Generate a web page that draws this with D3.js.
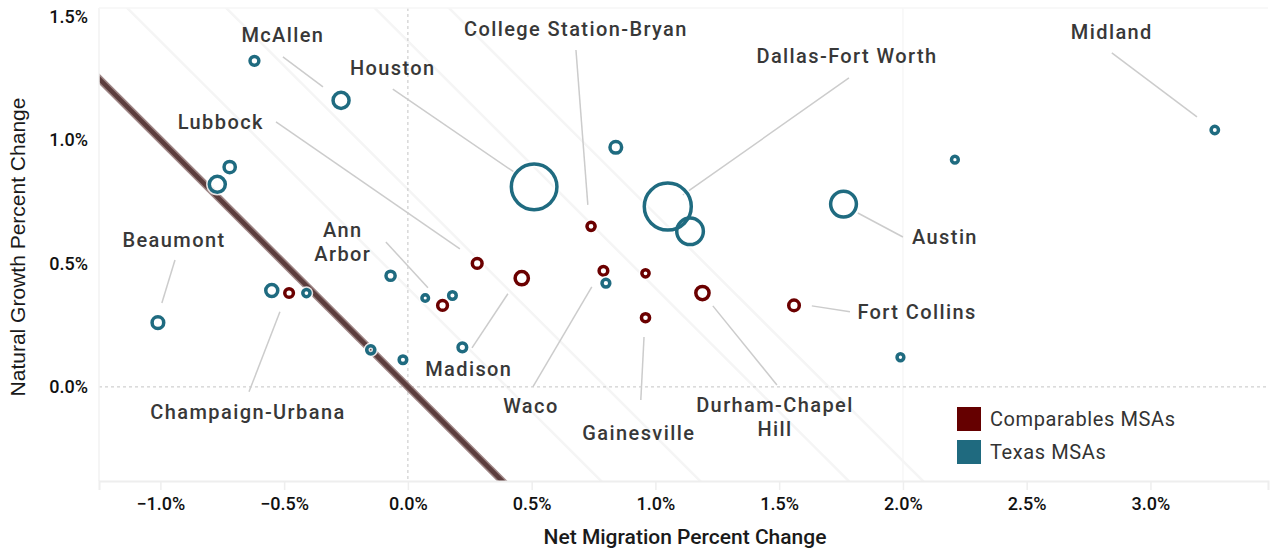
<!DOCTYPE html>
<html>
<head>
<meta charset="utf-8">
<script src="https://cdn.jsdelivr.net/npm/d3@7"></script>
<style>
  body { margin: 0; background: #fff; }
  svg { display: block; font-family: Roboto, "Noto Sans", sans-serif; }
</style>
</head>
<body>
<div id="chart"></div>
<script>
// Texas MSAs: net migration %, natural growth %, population (millions)
const texasMigration = [-0.62, -0.27, -0.72, -0.77, 0.51, 1.05, 1.14, 0.84, 1.76, 2.21, 3.26, 1.99, -1.01, -0.55, -0.41, -0.07, 0.07, 0.18, -0.15, -0.02, 0.22, 0.80];
const texasNatural   = [1.32, 1.16, 0.89, 0.82, 0.81, 0.73, 0.63, 0.97, 0.74, 0.92, 1.04, 0.12, 0.26, 0.39, 0.38, 0.45, 0.36, 0.37, 0.15, 0.11, 0.16, 0.42];
const texasPop       = [0.27, 0.89, 0.44, 0.89, 7.22, 7.67, 2.46, 0.47, 2.31, 0.16, 0.19, 0.16, 0.47, 0.50, 0.18, 0.29, 0.15, 0.20, 0.23, 0.20, 0.26, 0.21];

// Comparable MSAs
const compMigration = [-0.48, 0.14, 0.28, 0.46, 0.74, 0.79, 0.96, 0.96, 1.19, 1.56];
const compNatural   = [0.38, 0.33, 0.50, 0.44, 0.65, 0.47, 0.46, 0.28, 0.38, 0.33];
const compPop       = [0.26, 0.33, 0.33, 0.61, 0.23, 0.26, 0.18, 0.23, 0.61, 0.39];

// annotation labels (data units) and their leader lines
const labelNames = ["McAllen", "Houston", "College Station-Bryan", "Dallas-Fort Worth", "Midland", "Lubbock",
  "Ann\nArbor", "Beaumont", "Austin", "Fort Collins", "Madison", "Champaign-Urbana", "Waco", "Gainesville", "Durham-Chapel\nHill"];
const labelX = [-0.505, -0.061, 0.679, 1.774, 2.844, -0.756, -0.263, -0.945, 2.170, 2.057, 0.246, -0.646, 0.497, 0.933, 1.483];
const labelY = [1.425, 1.291, 1.449, 1.340, 1.437, 1.073, 0.587, 0.595, 0.607, 0.304, 0.073, -0.101, -0.077, -0.186, -0.123];
const leaderFrom = [[-0.505, 1.336], [-0.061, 1.206], [0.679, 1.364], [1.782, 1.251], [2.844, 1.352], [-0.533, 1.073],
  [-0.089, 0.587], [-0.941, 0.514], [1.818, 0.704], [1.632, 0.328], [0.259, 0.158], [-0.642, -0.020], [0.505, 0.000], [0.941, -0.053], [1.491, 0.008]];
const leaderTo = [[-0.343, 1.215], [0.440, 0.862], [0.727, 0.737], [1.111, 0.777], [3.188, 1.093], [0.210, 0.559],
  [0.081, 0.401], [-0.994, 0.340], [2.000, 0.607], [1.786, 0.304], [0.404, 0.377], [-0.517, 0.304], [0.743, 0.405], [0.954, 0.202], [1.232, 0.328]];

const xTicks = [-1.0, -0.5, 0.0, 0.5, 1.0, 1.5, 2.0, 2.5, 3.0];
const yTicks = [0.0, 0.5, 1.0, 1.5];
const isoSums = [0.4, 0.8, 1.4, 1.7];   // faint total-growth guide lines
const legendNames = ["Comparables MSAs", "Texas MSAs"];

const width = 1271, height = 552;
const margin = { top: 8, right: 3, bottom: 71, left: 99 };
const teal = "#1f6b80", maroon = "#6b0000";

const svg = d3.select("#chart").append("svg")
  .attr("width", width).attr("height", height);

const x = d3.scaleLinear().domain([-1.248, 3.475]).range([margin.left, width - margin.right]);
const y = d3.scaleLinear().domain([-0.381, 1.534]).range([height - margin.bottom, margin.top]);
const r = d3.scaleSqrt().domain([0, 8]).range([0, 24]);

svg.append("clipPath").attr("id", "plot-clip")
  .append("rect")
  .attr("x", x.range()[0]).attr("y", y.range()[1])
  .attr("width", x.range()[1] - x.range()[0])
  .attr("height", y.range()[0] - y.range()[1]);

const plot = svg.append("g").attr("clip-path", "url(#plot-clip)");

// plot frame (very light)
svg.append("line")
  .attr("x1", x.range()[0]).attr("x2", x.range()[0])
  .attr("y1", y.range()[1]).attr("y2", y.range()[0])
  .attr("stroke", "#f2f2f2").attr("stroke-width", 1.5);
svg.append("line")
  .attr("x1", x.range()[0]).attr("x2", x.range()[1])
  .attr("y1", y.range()[1]).attr("y2", y.range()[1])
  .attr("stroke", "#f6f6f6").attr("stroke-width", 1.5);
plot.append("line")
  .attr("x1", x(2.0)).attr("x2", x(2.0))
  .attr("y1", y.range()[1]).attr("y2", y.range()[0])
  .attr("stroke", "#f7f7f7").attr("stroke-width", 1.5);

// faint diagonal guides: migration + natural = constant
plot.selectAll(".iso")
  .data(isoSums)
  .enter().append("line")
  .attr("class", "iso")
  .attr("x1", d => x(d - 2)).attr("y1", d => y(2))
  .attr("x2", d => x(d + 2)).attr("y2", d => y(-2))
  .attr("stroke", "#f5f5f5").attr("stroke-width", 2.5);

// zero reference lines
plot.append("line")
  .attr("x1", x(0)).attr("x2", x(0))
  .attr("y1", y.range()[1]).attr("y2", y.range()[0])
  .attr("stroke", "#c4c4c4").attr("stroke-dasharray", "3,3");
plot.append("line")
  .attr("x1", x.range()[0]).attr("x2", x.range()[1])
  .attr("y1", y(0)).attr("y2", y(0))
  .attr("stroke", "#c4c4c4").attr("stroke-dasharray", "3,3");

// zero total growth line
plot.append("line")
  .attr("x1", x(-2)).attr("y1", y(2)).attr("x2", x(2)).attr("y2", y(-2))
  .attr("stroke", "#9e8585").attr("stroke-width", 7.5);
plot.append("line")
  .attr("x1", x(-2)).attr("y1", y(2)).attr("x2", x(2)).attr("y2", y(-2))
  .attr("stroke", "#5c3d3d").attr("stroke-width", 4.5);

// leader lines
svg.selectAll(".leader")
  .data(labelNames)
  .enter().append("line")
  .attr("class", "leader")
  .attr("x1", (d, i) => x(leaderFrom[i][0])).attr("y1", (d, i) => y(leaderFrom[i][1]))
  .attr("x2", (d, i) => x(leaderTo[i][0])).attr("y2", (d, i) => y(leaderTo[i][1]))
  .attr("stroke", "#cccccc").attr("stroke-width", 1.5);

// points
function drawRings(xs, ys, pops, color) {
  const g = svg.append("g");
  const idx = d3.range(xs.length);
  g.selectAll(".halo").data(idx).enter().append("circle")
    .attr("cx", i => x(xs[i])).attr("cy", i => y(ys[i])).attr("r", i => r(pops[i]))
    .attr("fill", "none").attr("stroke", "#fff").attr("stroke-opacity", 0.85).attr("stroke-width", 6.5);
  g.selectAll(".ring").data(idx).enter().append("circle")
    .attr("cx", i => x(xs[i])).attr("cy", i => y(ys[i])).attr("r", i => r(pops[i]))
    .attr("fill", "none").attr("stroke", color).attr("stroke-width", 3.5);
}
drawRings(compMigration, compNatural, compPop, maroon);
drawRings(texasMigration, texasNatural, texasPop, teal);

// labels
const lineH = 24;
svg.selectAll(".label")
  .data(labelNames)
  .enter().append("text")
  .attr("class", "label")
  .attr("text-anchor", "middle")
  .attr("font-size", 20)
  .attr("font-weight", 500)
  .attr("letter-spacing", 1.4)
  .attr("fill", "#383838")
  .each(function(d, i) {
    const lines = d.split("\n");
    const y0 = y(labelY[i]) - (lines.length - 1) * lineH / 2;
    lines.forEach((t, k) => {
      d3.select(this).append("tspan")
        .attr("x", x(labelX[i]))
        .attr("y", y0 + k * lineH)
        .attr("dy", "0.35em")
        .text(t);
    });
  });

// axes
const xAxis = svg.append("g")
  .attr("transform", "translate(0," + y.range()[0] + ")")
  .call(d3.axisBottom(x).tickValues(xTicks).tickFormat(d => d3.format(".1f")(d) + "%").tickSize(9).tickPadding(7));
xAxis.select(".domain").attr("stroke", "#eeeeee").attr("stroke-width", 2);
xAxis.selectAll(".tick line").attr("stroke", "#eeeeee").attr("stroke-width", 1.5);
xAxis.selectAll("text").attr("font-size", 18).attr("font-weight", 500).attr("fill", "#111")
  .attr("font-family", "Roboto, sans-serif");

const yAxis = svg.append("g")
  .attr("transform", "translate(" + x.range()[0] + ",0)")
  .call(d3.axisLeft(y).tickValues(yTicks).tickFormat(d => d3.format(".1f")(d) + "%").tickSize(0).tickPadding(11));
yAxis.select(".domain").remove();
yAxis.selectAll("text").attr("font-size", 18).attr("font-weight", 500).attr("fill", "#111")
  .attr("font-family", "Roboto, sans-serif");

// axis titles
svg.append("text")
  .attr("x", 685).attr("y", 544)
  .attr("text-anchor", "middle")
  .attr("font-size", 21).attr("font-weight", 500).attr("fill", "#1a1a1a")
  .text("Net Migration Percent Change");

svg.append("text")
  .attr("transform", "translate(25,247) rotate(-90)")
  .attr("text-anchor", "middle")
  .attr("font-size", 21).attr("fill", "#1a1a1a")
  .attr("font-family", "'Liberation Sans', Arial, sans-serif")
  .text("Natural Growth Percent Change");

// legend
const legend = svg.append("g").attr("transform", "translate(957,407)");
legend.selectAll("rect")
  .data(legendNames)
  .enter().append("rect")
  .attr("x", 0).attr("y", (d, i) => i * 33)
  .attr("width", 24).attr("height", 24)
  .attr("fill", (d, i) => i === 0 ? "#650000" : "#1f6a7f");
legend.selectAll("text")
  .data(legendNames)
  .enter().append("text")
  .attr("x", 33).attr("y", (d, i) => i * 33 + 12)
  .attr("dy", "0.35em")
  .attr("font-size", 20).attr("letter-spacing", 0.6).attr("fill", "#333")
  .text(d => d);
</script>
</body>
</html>
